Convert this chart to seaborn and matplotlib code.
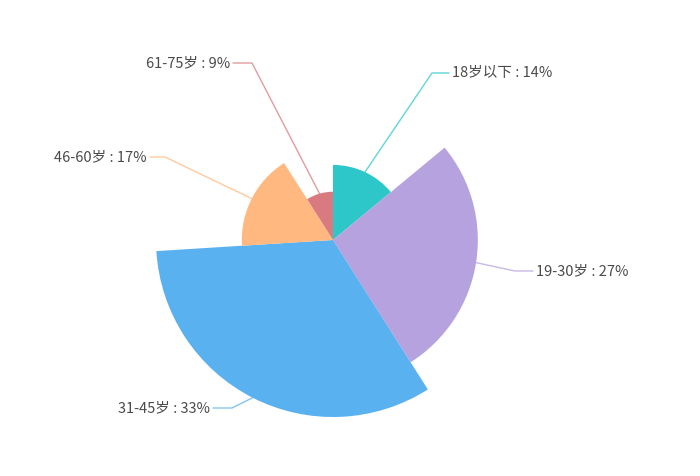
import numpy as np
import matplotlib
matplotlib.use("Agg")
import matplotlib.pyplot as plt
from matplotlib.patches import Wedge
import seaborn as sns

# data
categories = ['18岁以下', '19-30岁', '31-45岁', '46-60岁', '61-75岁']
values = [14, 27, 33, 17, 9]
colors = ['#2ec7c9', '#b6a2de', '#5ab1ef', '#ffb980', '#d87a80']

# label layout (pixel coords, y from top): elbow point, line end
label_elbow = [(432, 73), (515, 271), (232, 408), (165, 157), (252, 63)]
label_end = [(449, 73), (533, 271), (213, 408), (150, 157), (233, 63)]

sns.set_style('white')
plt.rcParams['font.family'] = ['Noto Sans CJK SC', 'DejaVu Sans']
palette = sns.color_palette(colors)

W, H = 700, 476
fig = plt.figure(figsize=(W / 100, H / 100), dpi=100)
ax = fig.add_axes([0, 0, 1, 1])
ax.set_xlim(0, W)
ax.set_ylim(H, 0)
ax.set_aspect('equal')
ax.axis('off')

cx, cy = 333, 240
r_max = 177
k = r_max / max(values)
total = sum(values)

# inverted y: angles run clockwise on screen, top is -90 deg
start = -90.0
for i, v in enumerate(values):
    span = v / total * 360
    r = v * k
    ax.add_patch(Wedge((cx, cy), r, start, start + span, facecolor=palette[i],
                       edgecolor='none', zorder=2))
    mid = np.deg2rad(start + span / 2)
    sx, sy = cx + r * np.cos(mid), cy + r * np.sin(mid)
    ex, ey = label_elbow[i]
    lx, ly = label_end[i]
    ax.plot([sx, ex, lx], [sy, ey, ly], color=palette[i], lw=1, alpha=0.75, zorder=1)
    right = lx > ex
    ax.text(lx + (3 if right else -3), ly, f'{categories[i]} : {v}%',
            ha='left' if right else 'right', va='center', fontsize=10.5,
            color='#4a4a4a')
    start += span

fig.savefig('out.png', dpi=100, facecolor='white')
